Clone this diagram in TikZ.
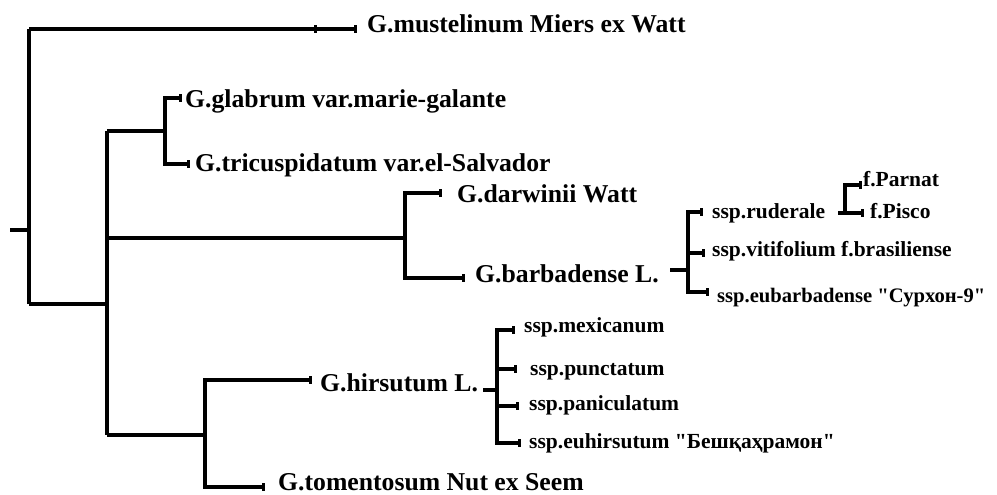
\documentclass[tikz,border=0pt]{standalone}
\usepackage{fontspec}
\setmainfont{Liberation Serif}
\usetikzlibrary{arrows.meta}
\tikzset{
  branch/.style={line width=4.3pt, line join=miter, line cap=butt},
  tipped/.style={branch, -{Rectangle[length=3pt,width=7.5pt]}},
  biglab/.style={anchor=base west, inner sep=0pt, font=\fontsize{25.7}{30}\selectfont\bfseries},
  smalllab/.style={anchor=base west, inner sep=0pt, font=\fontsize{21.5}{25}\selectfont\bfseries},
}
\begin{document}
\begin{tikzpicture}[x=1pt,y=-1pt]
\useasboundingbox (0,0) rectangle (997,495);

% labels
\node[biglab] (must) at (367,33) {G.mustelinum Miers ex Watt};
\node[biglab] (glab) at (185,108) {G.glabrum var.marie-galante};
\node[biglab] (tric) at (195,171) {G.tricuspidatum var.el-Salvador};
\node[biglab] (darw) at (457,202) {G.darwinii Watt};
\node[biglab] (barb) at (475,282) {G.barbadense L.};
\node[biglab] (hirs) at (320,391) {G.hirsutum L.};
\node[biglab] (tome) at (278,490) {G.tomentosum Nut ex Seem};
\node[smalllab] (rude) at (712,218) {ssp.ruderale};
\node[smalllab] (viti) at (712,256) {ssp.vitifolium f.brasiliense};
\node[smalllab, font=\fontsize{20.6}{24}\selectfont\bfseries] (euba) at (717,302) {ssp.eubarbadense \textquotedbl Сурхон-9\textquotedbl};
\node[smalllab] (parn) at (863,186) {f.Parnat};
\node[smalllab] (pisc) at (870,218) {f.Pisco};
\node[smalllab] (mexi) at (524,332) {ssp.mexicanum};
\node[smalllab] (punc) at (530,375) {ssp.punctatum};
\node[smalllab] (pani) at (529,410) {ssp.paniculatum};
\node[smalllab] (euhi) at (529,448) {ssp.euhirsutum \textquotedbl Бешқаҳрамон\textquotedbl};

% branch points
\coordinate (root0) at (10,230);
\coordinate (root) at (29,230);
\coordinate (rTop) at (29,29);
\coordinate (rBot) at (29,304);
\coordinate (aMid) at (107,304);
\coordinate (aTop) at (107,131);
\coordinate (aC) at (107,238);
\coordinate (aBot) at (107,435);
\coordinate (bMid) at (165,131);
\coordinate (bTop) at (165,98);
\coordinate (bBot) at (165,164);
\coordinate (cMid) at (405,238);
\coordinate (cTop) at (405,193);
\coordinate (cBot) at (405,278);
\coordinate (eMid) at (205,435);
\coordinate (eTop) at (205,380);
\coordinate (eBot) at (205,487);
% stub ends
\coordinate (mustE) at (357,29);
\coordinate (glabE) at (182,98);
\coordinate (tricE) at (190,164);
\coordinate (darwE) at (442,193);
\coordinate (barbE) at (465,278);
\coordinate (hirsE) at (312,380);
\coordinate (tomeE) at (265,487);
% barbadense subspecies
\coordinate (dS) at (670,270);
\coordinate (dMid) at (688,270);
\coordinate (dTop) at (688,212);
\coordinate (dV) at (688,253);
\coordinate (dBot) at (688,292);
\coordinate (rudeE) at (703,212);
\coordinate (vitiE) at (705,253);
\coordinate (eubaE) at (709,292);
% forms of ruderale
\coordinate (fS) at (838,213);
\coordinate (fTop) at (845,185);
\coordinate (fBot) at (845,213);
\coordinate (parnE) at (862,185);
\coordinate (piscE) at (864,213);
% hirsutum subspecies
\coordinate (hS) at (483,390);
\coordinate (hMid) at (497,390);
\coordinate (hTop) at (497,330);
\coordinate (hP) at (497,369);
\coordinate (hQ) at (497,406);
\coordinate (hBot) at (497,443);
\coordinate (mexiE) at (515,330);
\coordinate (puncE) at (517,369);
\coordinate (paniE) at (519,406);
\coordinate (euhiE) at (521,443);

% main tree
\draw[branch] (root0) -- (root);
\draw[branch] (rBot) -- (rTop);
\draw[tipped] (rTop) -- (mustE);
\fill (313.5,25) rectangle (316.5,33);
\draw[branch] (rBot) -- (aMid);
\draw[branch] (aTop) -- (aBot);
\draw[branch] (aTop) -- (bMid);
\draw[tipped] (bBot) -- (bTop) -- (glabE);
\draw[tipped] (bTop) -- (bBot) -- (tricE);
\draw[branch] (aC) -- (cMid);
\draw[tipped] (cBot) -- (cTop) -- (darwE);
\draw[tipped] (cTop) -- (cBot) -- (barbE);
\draw[branch] (aBot) -- (eMid);
\draw[tipped] (eBot) -- (eTop) -- (hirsE);
\draw[tipped] (eTop) -- (eBot) -- (tomeE);

% barbadense
\draw[branch] (dS) -- (dMid);
\draw[tipped] (dBot) -- (dTop) -- (rudeE);
\draw[tipped] (dV) -- (vitiE);
\draw[tipped] (dTop) -- (dBot) -- (eubaE);
\draw[branch] (fS) -- (fBot);
\draw[tipped] (fBot) -- (fTop) -- (parnE);
\draw[tipped] (fTop) -- (fBot) -- (piscE);

% hirsutum
\draw[branch] (hS) -- (hMid);
\draw[tipped] (hBot) -- (hTop) -- (mexiE);
\draw[tipped] (hP) -- (puncE);
\draw[tipped] (hQ) -- (paniE);
\draw[tipped] (hTop) -- (hBot) -- (euhiE);
\end{tikzpicture}
\end{document}
